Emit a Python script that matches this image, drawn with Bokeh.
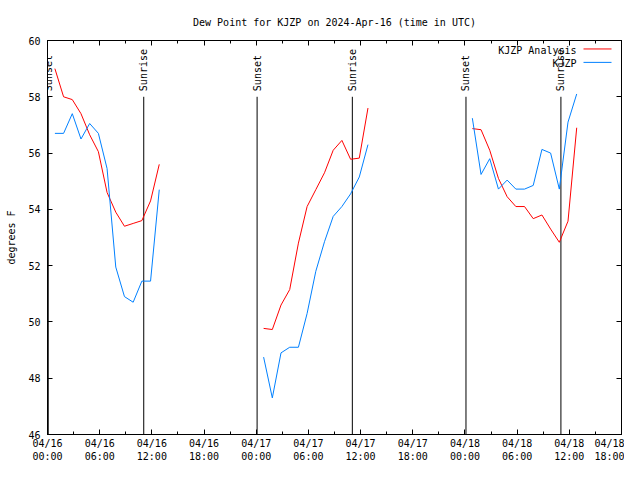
import numpy as np
import pandas as pd
from bokeh.plotting import figure
from bokeh.models import (FixedTicker, DatetimeTickFormatter, LinearAxis, DatetimeAxis,
                          Range1d, Label)
from bokeh.embed import file_html
from bokeh.resources import INLINE

FONT = "DejaVu Sans Mono"
FS = "10px"

# ---------------- data ----------------
title_text = "Dew Point for KJZP on 2024-Apr-16 (time in UTC)"
y_label = "degrees F"

seg_starts = ["2024-04-16 00:51", "2024-04-17 00:51", "2024-04-18 00:51"]

analysis_d1 = [59.0, 58.0, 57.9, 57.4, 56.65, 56.05, 54.6, 53.9, 53.4, 53.5, 53.6, 54.3, 55.6]
analysis_d2 = [49.77, 49.73, 50.6, 51.15, 52.8, 54.1, 54.7, 55.3, 56.1, 56.45, 55.78, 55.82, 57.6]
analysis_d3 = [56.87, 56.83, 56.1, 55.1, 54.45, 54.1, 54.1, 53.67, 53.8, 53.3, 52.83, 53.58, 56.9]

obs_d1 = [56.7, 56.7, 57.4, 56.5, 57.05, 56.7, 55.45, 51.95, 50.9, 50.7, 51.45, 51.45, 54.7]
obs_d2 = [48.75, 47.3, 48.9, 49.1, 49.1, 50.3, 51.8, 52.85, 53.75, 54.1, 54.55, 55.15, 56.3]
obs_d3 = [57.24, 55.24, 55.8, 54.72, 55.04, 54.72, 54.72, 54.85, 56.13, 56.0, 54.72, 57.1, 58.1]

sun_names = ["Sunset", "Sunrise", "Sunset", "Sunrise", "Sunset", "Sunrise"]
sun_times = ["2024-04-16 00:05", "2024-04-16 11:04", "2024-04-17 00:06",
             "2024-04-17 11:03", "2024-04-18 00:07", "2024-04-18 11:02"]

x_start = "2024-04-16 00:00"
x_end = "2024-04-18 18:00"
tick_hours = 6
minor_tick_hours = 3
y_min, y_max, y_step = 46, 60, 2

series_names = ["KJZP Analysis", "KJZP"]
series_colors = ["#ff0000", "#0080ff"]

# ---------------- helpers ----------------
EPOCH = pd.Timestamp("1970-01-01")


def to_ms(t):
    return (pd.Timestamp(t) - EPOCH).total_seconds() * 1000.0


def build(segs):
    xs, ys = [], []
    for st, vals in zip(seg_starts, segs):
        times = pd.date_range(st, periods=len(vals), freq="h")
        xs += [to_ms(t) for t in times] + [np.nan]
        ys += list(vals) + [np.nan]
    return xs[:-1], ys[:-1]


x0 = to_ms(x_start)
x1 = to_ms(x_end)

W, H = 624, 464
BL, BR, BT, BB = 47, 3, 40, 28
FRAME_W, FRAME_H = W - BL - BR, H - BT - BB


def fx(px):
    return x0 + px / FRAME_W * (x1 - x0)


def fy(py):
    return y_max - py / FRAME_H * (y_max - y_min)


p = figure(width=W, height=H, x_axis_type="datetime",
           output_backend="svg", toolbar_location=None,
           x_range=Range1d(x0, x1), y_range=Range1d(y_min, y_max),
           min_border_left=BL, min_border_right=BR,
           min_border_top=BT, min_border_bottom=BB)

p.title.text = title_text
p.title.align = "center"
p.title.text_font = FONT
p.title.text_font_size = FS
p.title.text_font_style = "normal"
p.title.text_color = "black"
p.title.standoff = 25

p.outline_line_color = "black"
p.outline_line_width = 1
p.grid.visible = False
p.background_fill_color = "white"
p.border_fill_color = "white"

xticks = [to_ms(t) for t in pd.date_range(x_start, x_end, freq=f"{tick_hours}h")]
xminor = [to_ms(t) for t in pd.date_range(x_start, x_end, freq=f"{minor_tick_hours}h")]
yticks = list(range(y_min, y_max + 1, y_step))

fmt = "%m/%d\n%H:%M"
formatter = DatetimeTickFormatter(microseconds=fmt, milliseconds=fmt, seconds=fmt,
                                  minsec=fmt, minutes=fmt, hourmin=fmt, hours=fmt,
                                  days=fmt, months=fmt, years=fmt)

xa = p.xaxis[0]
xa.ticker = FixedTicker(ticks=xticks, minor_ticks=xminor)
xa.formatter = formatter
ya = p.yaxis[0]
ya.ticker = FixedTicker(ticks=yticks)
ya.axis_label = y_label

for ax in (xa, ya):
    ax.major_tick_in = 5
    ax.major_tick_out = 0
    ax.minor_tick_in = 0
    ax.minor_tick_out = 0
    ax.major_label_text_font = FONT
    ax.major_label_text_font_size = FS
    ax.major_label_text_color = "black"
    ax.axis_label_text_font = FONT
    ax.axis_label_text_font_size = FS
    ax.axis_label_text_font_style = "normal"
    ax.axis_label_text_color = "black"
    ax.axis_line_color = "black"
xa.minor_tick_in = 3
ya.major_label_standoff = 7
xa.major_label_standoff = 3
ya.axis_label_standoff = 8

# mirrored ticks (no labels)
ra = LinearAxis(ticker=FixedTicker(ticks=yticks), major_tick_in=5, major_tick_out=0,
                minor_tick_in=0, minor_tick_out=0,
                major_label_overrides={t: "" for t in yticks},
                major_label_standoff=0, axis_line_color="black")
p.add_layout(ra, "right")
ta = DatetimeAxis(ticker=FixedTicker(ticks=xticks, minor_ticks=xminor),
                  major_tick_in=5, major_tick_out=0,
                  minor_tick_in=3, minor_tick_out=0,
                  major_label_overrides={t: "" for t in xticks},
                  major_label_standoff=0, axis_line_color="black")
p.add_layout(ta, "above")

# sunrise / sunset markers
for name, t in zip(sun_names, sun_times):
    tm = to_ms(t)
    p.segment(x0=[tm], y0=[y_min], x1=[tm], y1=[58.0], line_color="black", line_width=1)
    p.add_layout(Label(x=tm, y=58.2, text=name, angle=90, angle_units="deg",
                       text_align="left", text_baseline="middle",
                       text_font=FONT, text_font_size=FS, text_color="black"))

# series
an_x, an_y = build([analysis_d1, analysis_d2, analysis_d3])
ob_x, ob_y = build([obs_d1, obs_d2, obs_d3])
p.line(an_x, an_y, line_color=series_colors[0], line_width=1)
p.line(ob_x, ob_y, line_color=series_colors[1], line_width=1)

# gnuplot-style legend (label left of sample)
for i, (nm, col) in enumerate(zip(series_names, series_colors)):
    py = 10 + i * 13.5
    p.add_layout(Label(x=fx(529), y=fy(py), text=nm, text_align="right",
                       text_baseline="middle", text_font=FONT, text_font_size=FS,
                       text_color="black"))
    p.segment(x0=[fx(536)], y0=[fy(py - 1.5)], x1=[fx(564)], y1=[fy(py - 1.5)],
              line_color=col, line_width=1)

open("out.html", "w").write(file_html(p, INLINE))
